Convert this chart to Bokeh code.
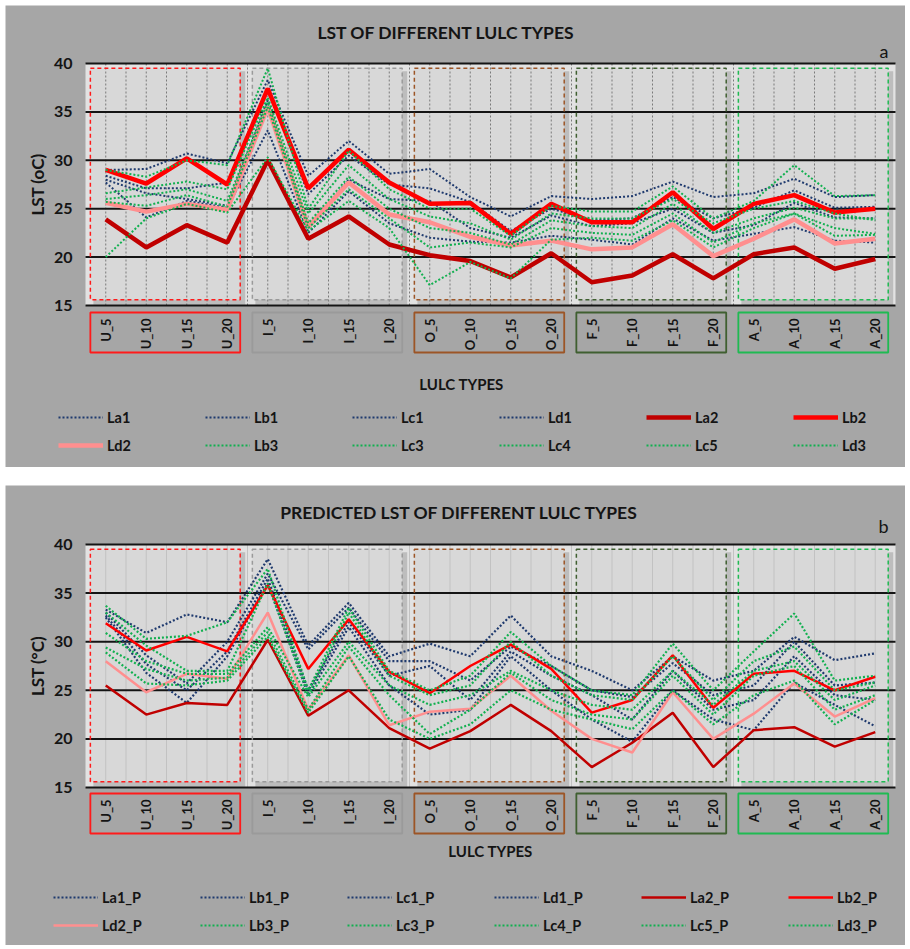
import numpy as np
from bokeh.plotting import figure
from bokeh.models import Legend, LegendItem, Label, Range1d
from bokeh.core.properties import value
from bokeh.layouts import column
from bokeh.embed import file_html
from bokeh.resources import INLINE

# ---------------------------------------------------------------- data
CATEGORIES = ["U_5", "U_10", "U_15", "U_20", "I_5", "I_10", "I_15", "I_20",
              "O_5", "O_10", "O_15", "O_20", "F_5", "F_10", "F_15", "F_20",
              "A_5", "A_10", "A_15", "A_20"]
GROUP_COLORS = ["#ff1a1a", "#9a9a9a", "#9c5526", "#3f5f30", "#1fba52"]
Y_TICKS = [15, 20, 25, 30, 35, 40]

# observed LST (oC)
LA1 = [29.0, 29.1, 30.7, 29.7, 38.3, 28.4, 32.0, 28.6, 29.1, 26.2, 24.2, 26.3, 26.0, 26.3, 27.8, 26.2, 26.6, 28.1, 26.2, 26.4]
LB1 = [28.4, 27.1, 27.1, 27.7, 37.5, 26.5, 30.5, 27.5, 27.1, 25.7, 22.7, 25.0, 23.8, 24.0, 26.2, 24.0, 25.1, 26.9, 25.1, 25.2]
LC1 = [28.0, 26.6, 26.0, 25.3, 36.2, 23.0, 28.0, 26.0, 25.8, 23.0, 22.0, 24.3, 23.2, 23.5, 25.0, 22.5, 23.3, 25.6, 24.1, 24.0]
LD1 = [27.7, 24.1, 25.8, 25.1, 33.1, 22.5, 26.8, 23.5, 22.0, 21.6, 21.5, 22.2, 21.8, 21.3, 24.0, 21.7, 22.4, 23.1, 21.7, 21.5]
LA2 = [23.9, 21.0, 23.3, 21.5, 30.0, 21.9, 24.2, 21.3, 20.2, 19.6, 17.9, 20.4, 17.4, 18.1, 20.3, 17.8, 20.3, 21.0, 18.8, 19.8]
LB2 = [29.0, 27.6, 30.2, 27.5, 37.4, 27.1, 31.1, 27.7, 25.5, 25.6, 22.4, 25.5, 23.6, 23.6, 26.7, 22.9, 25.5, 26.4, 24.6, 25.0]
LD2 = [25.6, 24.7, 25.5, 24.9, 35.5, 23.1, 27.7, 24.4, 23.6, 22.1, 21.2, 21.7, 20.8, 21.0, 23.4, 20.1, 21.9, 23.9, 21.4, 21.9]
LB3 = [29.0, 28.3, 30.0, 29.5, 39.5, 25.0, 31.0, 27.0, 25.0, 25.0, 22.2, 25.3, 24.7, 24.7, 27.3, 24.0, 25.8, 29.5, 26.3, 26.4]
LC3 = [26.6, 27.2, 27.8, 27.0, 36.5, 24.5, 29.5, 26.0, 24.2, 23.5, 21.8, 24.5, 24.0, 24.0, 26.0, 23.5, 25.0, 25.8, 24.5, 23.8]
LC4 = [26.0, 26.4, 27.0, 25.8, 36.0, 23.5, 28.3, 25.0, 23.0, 22.5, 21.3, 23.8, 23.2, 23.0, 25.5, 22.5, 24.0, 25.1, 24.0, 24.0]
LC5 = [25.7, 25.3, 26.4, 25.2, 35.5, 23.0, 27.0, 24.0, 21.0, 21.5, 21.0, 23.0, 22.5, 22.3, 24.5, 21.5, 23.5, 24.5, 23.0, 22.4]
LD3 = [20.0, 24.0, 25.5, 24.6, 30.3, 22.7, 25.8, 23.0, 17.1, 19.5, 17.8, 21.8, 22.0, 21.7, 23.8, 21.0, 23.0, 24.5, 22.2, 22.3]

# predicted LST (°C)
LA1_P = [33.3, 30.9, 32.8, 32.0, 38.5, 29.6, 34.0, 28.5, 29.8, 28.5, 32.7, 28.5, 27.0, 25.0, 28.5, 26.0, 27.0, 30.5, 28.1, 28.8]
LB1_P = [33.0, 28.6, 25.7, 30.0, 37.0, 29.2, 33.5, 28.0, 28.0, 26.0, 29.5, 27.5, 25.0, 24.3, 27.8, 24.5, 25.5, 30.0, 25.5, 25.8]
LC1_P = [32.7, 27.7, 25.0, 29.0, 36.5, 25.0, 32.0, 26.5, 27.5, 24.0, 29.0, 26.5, 24.5, 22.0, 27.0, 23.0, 24.0, 28.5, 24.5, 24.0]
LD1_P = [32.5, 26.8, 23.7, 28.5, 36.0, 24.5, 31.5, 25.5, 22.5, 23.0, 28.5, 25.0, 22.0, 19.7, 25.0, 22.0, 20.9, 25.8, 23.5, 21.3]
LA2_P = [25.5, 22.5, 23.7, 23.5, 30.2, 22.4, 25.0, 21.1, 19.0, 20.8, 23.5, 20.8, 17.1, 19.6, 22.7, 17.1, 20.9, 21.2, 19.2, 20.7]
LB2_P = [31.9, 29.1, 30.5, 29.0, 35.8, 27.2, 32.3, 26.9, 24.7, 27.5, 29.7, 27.2, 22.7, 24.0, 28.6, 23.2, 26.7, 27.0, 25.0, 26.4]
LD2_P = [28.0, 24.8, 26.7, 26.2, 33.0, 23.0, 28.6, 21.4, 22.8, 23.1, 26.5, 22.9, 20.0, 18.6, 24.8, 20.0, 22.6, 25.7, 22.3, 24.2]
LB3_P = [33.7, 30.3, 30.6, 32.0, 37.5, 25.0, 33.5, 27.0, 25.0, 26.5, 31.0, 27.5, 25.0, 24.5, 29.8, 25.0, 29.0, 32.9, 26.0, 26.5]
LC3_P = [33.0, 29.6, 27.0, 27.0, 36.0, 24.5, 33.0, 26.5, 24.5, 25.5, 30.0, 26.5, 24.5, 24.0, 28.5, 24.0, 28.0, 29.5, 25.0, 25.8]
LC4_P = [30.9, 28.0, 26.7, 26.7, 31.5, 24.3, 30.0, 25.5, 23.5, 24.5, 27.0, 25.0, 23.5, 23.0, 27.0, 23.5, 27.0, 28.0, 24.0, 25.5]
LC5_P = [29.4, 27.2, 26.0, 26.3, 31.0, 23.0, 29.5, 24.5, 20.5, 23.0, 26.8, 24.0, 22.5, 22.0, 26.5, 22.5, 26.5, 27.5, 23.0, 24.5]
LD3_P = [28.9, 25.7, 25.5, 26.0, 30.5, 22.7, 28.5, 22.0, 20.0, 21.5, 25.0, 23.0, 22.0, 21.0, 25.0, 21.5, 24.5, 26.0, 21.5, 24.0]

# ---------------------------------------------------------------- style
FONT = "Lato"
NAVY = "#1f3a6e"
GREEN = "#12b050"
INK = "#141414"
OUTER_BG = "#a6a6a6"
GAP_BG = "#e2e2e2"
BOX_BG = "#d8d8d8"
SHADOW = "#bdbdbd"
FIG_W = 900
PLOT_LEFT, PLOT_RIGHT = 80, 890          # pixel edges of the value area


def build_panel(title, tag, ylabel, series, o):
    n = len(CATEGORIES)
    H, top, bot = o["height"], o["plot_top"], o["plot_bottom"]
    ux = (PLOT_RIGHT - PLOT_LEFT) / n           # pixels per category
    uy = (bot - top) / 25.0                     # pixels per degree
    x_range = Range1d(-0.5 - PLOT_LEFT / ux, n - 0.5 + (FIG_W - PLOT_RIGHT) / ux)
    y_range = Range1d(15 - (H - bot) / uy, 40 + top / uy)

    def dx(px):   # pixel distance -> category units
        return px / ux

    def dy(px):   # pixel distance -> degrees
        return px / uy

    p = figure(width=FIG_W, height=H, x_range=x_range, y_range=y_range,
               output_backend="svg", toolbar_location=None,
               min_border=0, min_border_left=0, min_border_right=0,
               min_border_top=0, min_border_bottom=0,
               background_fill_color=OUTER_BG, border_fill_color=OUTER_BG,
               outline_line_color=None)
    p.margin = o["margin"]
    p.axis.visible = False
    p.grid.visible = False

    # value area: light strips between the groups, shaded group panels
    lefts = [4 * g - 0.38 for g in range(5)]
    rights = [4 * g + 3.32 for g in range(5)]
    p.quad(left=-0.5, right=n - 0.5, bottom=15, top=40, fill_color=GAP_BG, line_color=None)
    p.quad(left=[l + dx(3) for l in lefts], right=[r + dx(5) for r in rights],
           bottom=15.6 - dy(5), top=39.5 - dy(3), fill_color=SHADOW, line_color=None)
    p.quad(left=lefts, right=rights, bottom=15.6, top=39.5, fill_color=BOX_BG, line_color=None)

    half = np.arange(0, n - 0.5, 0.5)
    p.segment(x0=half, x1=half, y0=15, y1=40, line_color=o["vgrid_color"],
              line_width=1, line_dash=o["vgrid_dash"])
    p.segment(x0=-0.5, x1=n - 0.5, y0=Y_TICKS, y1=Y_TICKS, line_color=INK, line_width=2)

    # group frames: dashed in the value area, solid round the tick labels
    p.quad(left=lefts, right=rights, bottom=15.6, top=39.5, fill_alpha=0,
           line_color=GROUP_COLORS, line_width=1.5, line_dash="4 3")
    p.quad(left=lefts, right=rights, bottom=15 - dy(o["tb_bottom"]), top=15 - dy(o["tb_top"]),
           fill_alpha=0, line_color=GROUP_COLORS, line_width=1.8)

    # tick labels
    p.text(x=list(range(n)), y=[15 - dy(o["tb_top"] + 6)] * n, text=CATEGORIES,
           angle=np.pi / 2, text_align="right", text_baseline="middle",
           text_font=value(FONT), text_font_style="bold", text_font_size="13px",
           text_color=INK)
    p.text(x=[-0.5 - dx(13)] * len(Y_TICKS), y=Y_TICKS, text=[str(t) for t in Y_TICKS],
           text_align="right", text_baseline="middle",
           text_font=value(FONT), text_font_style="bold", text_font_size="16px",
           text_color=INK)
    p.text(x=[-0.5 - dx(o["ylabel_dx"])], y=[27.5], text=[ylabel], angle=np.pi / 2,
           text_align="center", text_baseline="middle",
           text_font=value(FONT), text_font_style="bold", text_font_size="17px",
           text_color=INK)

    # series
    xs = list(range(n))
    items = []
    for name, vals, kind in series:
        if kind == "blue":
            r = p.line(xs, vals, line_color=NAVY, line_width=o["dot_w"], line_dash="2 2")
        elif kind == "green":
            r = p.line(xs, vals, line_color=GREEN, line_width=o["dot_w"], line_dash="2 2")
        elif kind == "dark":
            r = p.line(xs, vals, line_color="#c00000", line_width=o["solid_w"])
        elif kind == "red":
            r = p.line(xs, vals, line_color="#ff0000", line_width=o["solid_w"])
        else:
            r = p.line(xs, vals, line_color="#ff8f8f", line_width=o["solid_w"])
        items.append(LegendItem(label=name, renderers=[r]))

    legend = Legend(items=items, orientation="horizontal", ncols=6,
                    location=o["legend_loc"], padding=0, margin=0,
                    spacing=8, glyph_width=45, glyph_height=20,
                    label_standoff=4, label_width=90, label_height=20,
                    label_text_font=FONT, label_text_font_style="bold",
                    label_text_font_size="14.5px", label_text_color=INK,
                    background_fill_alpha=0, border_line_alpha=0)
    p.add_layout(legend)

    # titles
    mid = (n - 1) / 2
    p.add_layout(Label(x=mid + dx(o["title_dx"]), y=40 + dy(o["title_dy"]), text=title,
                       text_align="center", text_baseline="middle",
                       text_font=FONT, text_font_style="bold", text_font_size="17.5px",
                       text_color=INK))
    p.add_layout(Label(x=n - 0.5 - dx(7), y=40 + dy(o["tag_dy"]), text=tag,
                       text_align="right", text_baseline="middle",
                       text_font=FONT, text_font_size="18px", text_color=INK))
    p.add_layout(Label(x=mid + dx(o["xl_dx"]), y=15 - dy(o["xl_dy"]), text="LULC TYPES",
                       text_align="center", text_baseline="middle",
                       text_font=FONT, text_font_style="bold", text_font_size="15px",
                       text_color=INK))
    return p


series_a = [("La1", LA1, "blue"), ("Lb1", LB1, "blue"), ("Lc1", LC1, "blue"), ("Ld1", LD1, "blue"),
            ("La2", LA2, "dark"), ("Lb2", LB2, "red"), ("Ld2", LD2, "pink"),
            ("Lb3", LB3, "green"), ("Lc3", LC3, "green"), ("Lc4", LC4, "green"),
            ("Lc5", LC5, "green"), ("Ld3", LD3, "green")]
series_b = [("La1_P", LA1_P, "blue"), ("Lb1_P", LB1_P, "blue"), ("Lc1_P", LC1_P, "blue"),
            ("Ld1_P", LD1_P, "blue"), ("La2_P", LA2_P, "dark"), ("Lb2_P", LB2_P, "red"),
            ("Ld2_P", LD2_P, "pink"), ("Lb3_P", LB3_P, "green"), ("Lc3_P", LC3_P, "green"),
            ("Lc4_P", LC4_P, "green"), ("Lc5_P", LC5_P, "green"), ("Ld3_P", LD3_P, "green")]

pa = build_panel("LST OF DIFFERENT LULC TYPES", "a", "LST (oC)", series_a, dict(
    height=462, plot_top=58, plot_bottom=300, margin=(5, 5, 0, 5),
    vgrid_color="#7a7a7a", vgrid_dash="2 2",
    tb_top=7, tb_bottom=47, dot_w=2, solid_w=4.5, ylabel_dx=48,
    legend_loc=(53, 12), title_dx=-44, title_dy=31, tag_dy=13,
    xl_dx=-29, xl_dy=78))

pb = build_panel("PREDICTED LST OF DIFFERENT LULC TYPES", "b", "LST (°C)", series_b, dict(
    height=460, plot_top=59, plot_bottom=302, margin=(18, 5, 0, 5),
    vgrid_color="#c2c2c2", vgrid_dash="solid",
    tb_top=6, tb_bottom=46, dot_w=2.2, solid_w=2.5, ylabel_dx=48,
    legend_loc=(48, 10), title_dx=-31, title_dy=32, tag_dy=19,
    xl_dx=0, xl_dy=63))

layout = column(pa, pb, spacing=0)
open("out.html", "w").write(file_html(layout, INLINE))
